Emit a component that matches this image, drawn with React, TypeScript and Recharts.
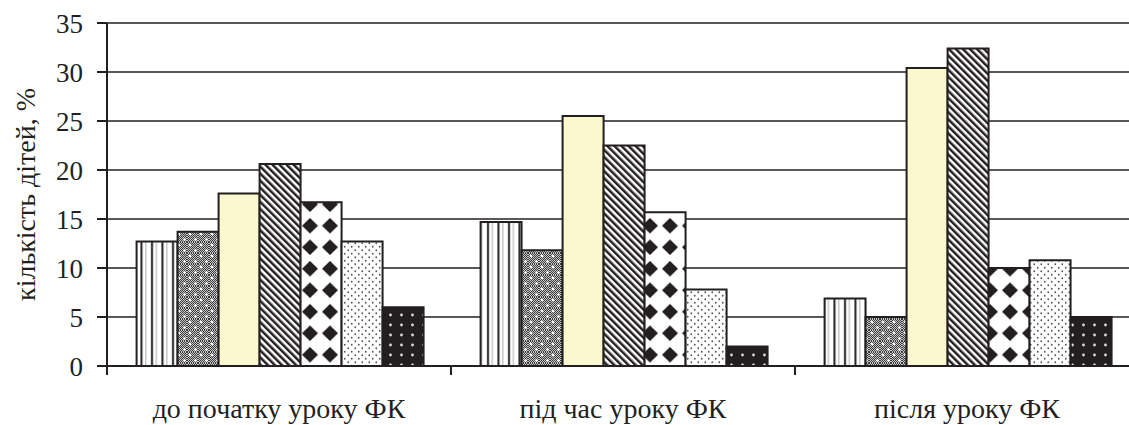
import { BarChart, Bar, XAxis, YAxis, CartesianGrid } from 'recharts';

// Дані (% дітей)
const categories = ['до початку уроку ФК', 'під час уроку ФК', 'після уроку ФК'];
const verticalStripes = [12.7, 14.7, 6.9];
const grayDots = [13.7, 11.8, 5.0];
const yellow = [17.6, 25.5, 30.4];
const diagonal = [20.6, 22.5, 32.4];
const diamonds = [16.7, 15.7, 10.0];
const sparseDots = [12.7, 7.8, 10.8];
const blackDots = [6.0, 2.0, 5.0];
const yTicks = [0, 5, 10, 15, 20, 25, 30, 35];

const INK = '#231f20';
const FONT = "'Times New Roman', 'Liberation Serif', 'DejaVu Serif', serif";

const data = categories.map((name, i) => ({
  name,
  s1: verticalStripes[i],
  s2: grayDots[i],
  s3: yellow[i],
  s4: diagonal[i],
  s5: diamonds[i],
  s6: sparseDots[i],
  s7: blackDots[i],
}));

const series = [
  { key: 's1', fill: 'url(#pStripe)' },
  { key: 's2', fill: 'url(#pGray)' },
  { key: 's3', fill: '#fbf7cf' },
  { key: 's4', fill: 'url(#pDiag)' },
  { key: 's5', fill: 'url(#pDiamond)' },
  { key: 's6', fill: 'url(#pDots)' },
  { key: 's7', fill: 'url(#pBlack)' },
];

// штрихування як у друкованому рисунку
function Patterns() {
  return (
    <svg width={0} height={0} style={{ position: 'absolute' }}>
      <defs>
        <pattern id="pStripe" width={10.5} height={10} patternUnits="userSpaceOnUse">
          <rect width={10.5} height={10} fill="#fff" />
          <rect x={4} width={2} height={10} fill={INK} />
          <rect x={9} width={0.8} height={10} fill="#999" />
        </pattern>
        <pattern id="pCheck" width={2} height={2} patternUnits="userSpaceOnUse">
          <rect width={2} height={2} fill="#c8c8c8" />
          <rect width={1} height={1} fill="#3a3a3a" />
          <rect x={1} y={1} width={1} height={1} fill="#3a3a3a" />
        </pattern>
        <pattern id="pGray" width={11} height={11} patternUnits="userSpaceOnUse">
          <rect width={11} height={11} fill="url(#pCheck)" />
          <circle cx={3} cy={3} r={1.3} fill="#fff" />
          <circle cx={8.5} cy={8.5} r={1.3} fill="#fff" />
        </pattern>
        <pattern id="pDiag" width={5} height={5} patternUnits="userSpaceOnUse" patternTransform="rotate(-45)">
          <rect width={5} height={5} fill="#fff" />
          <rect width={2.5} height={5} fill={INK} />
        </pattern>
        <pattern id="pDiamond" width={20} height={21.5} patternUnits="userSpaceOnUse">
          <rect width={20} height={21.5} fill="#fff" />
          <polygon points="10,3 18,10.75 10,18.5 2,10.75" fill={INK} />
        </pattern>
        <pattern id="pDots" width={7} height={7} patternUnits="userSpaceOnUse">
          <rect width={7} height={7} fill="#fff" />
          <circle cx={1.75} cy={1.75} r={0.9} fill="#555" />
          <circle cx={5.25} cy={5.25} r={0.9} fill="#555" />
        </pattern>
        <pattern id="pBlack" width={11} height={10} patternUnits="userSpaceOnUse">
          <rect width={11} height={10} fill={INK} />
          <circle cx={5.5} cy={5} r={1.4} fill="#ddd" />
        </pattern>
      </defs>
    </svg>
  );
}

// підпис категорії + риска на межі категорії
function CategoryTick(props: any) {
  const { x, y, payload } = props;
  const half = payload?.offset ?? 0;
  return (
    <g>
      <line x1={x - half} x2={x - half} y1={y} y2={y + 9} stroke={INK} strokeWidth={2} />
      <line x1={x + half} x2={x + half} y1={y} y2={y + 9} stroke={INK} strokeWidth={2} />
      <text x={x} y={y + 52} textAnchor="middle" fontFamily={FONT} fontSize={28} fill={INK}>
        {payload.value}
      </text>
    </g>
  );
}

export default function App() {
  return (
    <div style={{ position: 'absolute', left: 0, top: 0, width: 1129, height: 425, overflow: 'hidden', background: '#fff' }}>
      <Patterns />
      <BarChart
        width={1150}
        height={425}
        data={data}
        margin={{ top: 23, right: 11, bottom: 0, left: 0 }}
        barCategoryGap="8.6%"
        barGap={0}
      >
        <CartesianGrid vertical={false} stroke={INK} strokeWidth={1.5} strokeOpacity={1} />
        <XAxis
          dataKey="name"
          height={59}
          tickLine={false}
          tickSize={0}
          tickMargin={0}
          axisLine={{ stroke: INK, strokeWidth: 2 }}
          tick={<CategoryTick />}
          interval={0}
        />
        <YAxis
          width={107}
          domain={[0, 35]}
          ticks={yTicks}
          interval={0}
          tickSize={10}
          tickMargin={14}
          tickLine={{ stroke: INK, strokeWidth: 2 }}
          axisLine={{ stroke: INK, strokeWidth: 2 }}
          tick={{ fill: INK, fontSize: 27, fontFamily: FONT }}
          label={{
            value: 'кількість дітей, %',
            angle: -90,
            position: 'center',
            dx: -28,
            fontFamily: FONT,
            fontSize: 28,
            fill: INK,
          }}
        />
        {series.map((s) => (
          <Bar
            key={s.key}
            dataKey={s.key}
            fill={s.fill}
            stroke={INK}
            strokeWidth={2}
            isAnimationActive={false}
          />
        ))}
      </BarChart>
    </div>
  );
}
